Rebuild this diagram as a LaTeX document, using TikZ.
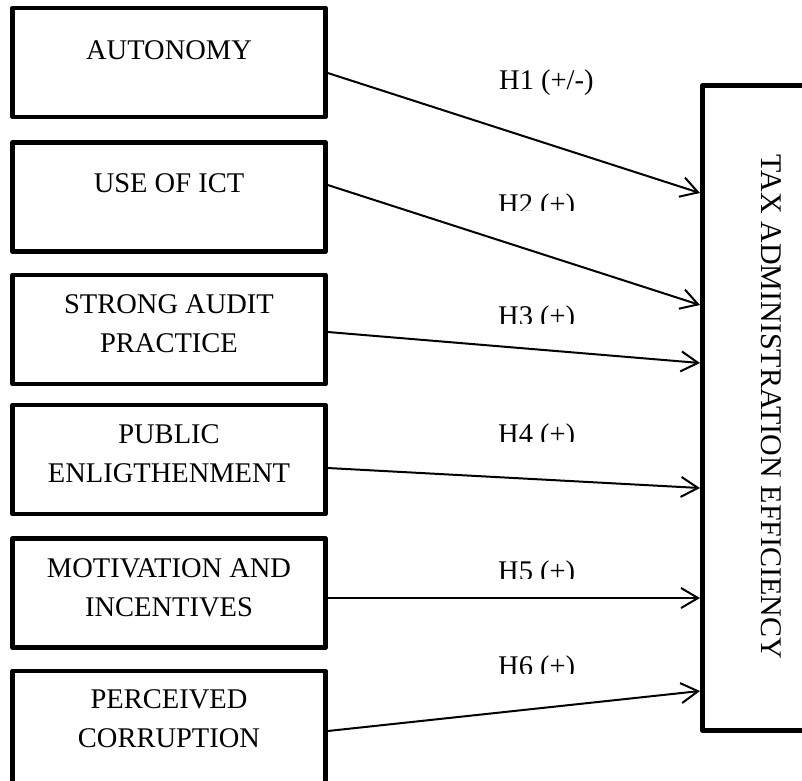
\documentclass[tikz,border=0pt]{standalone}
\usepackage{fontspec}
\setmainfont{Liberation Serif}
\usetikzlibrary{arrows.meta,calc}
\begin{document}
\begin{tikzpicture}[x=1pt,y=-1pt,
  box/.style={draw, line width=4.5pt, minimum width=313pt, minimum height=109pt, inner sep=0pt, line join=round},
  big/.style={draw, line width=5pt, minimum width=250pt, minimum height=645pt, inner sep=0pt, line join=round},
  txt/.style={font=\fontsize{28.5}{39}\selectfont, align=center, inner sep=0pt, anchor=base},
  lab/.style={font=\fontsize{28.5}{34}\selectfont, inner sep=0pt, anchor=base west},
  arr/.style={line width=2pt, -{Straight Barb[length=17pt,width=20pt]}}
]
\path[use as bounding box] (0,0) rectangle (802,780);
\clip (0,0) rectangle (802,780);
% left boxes
\node[box] (b1) at (169,62.25) {};
\node[box] (b2) at (169,197) {};
\node[box] (b3) at (169,329.5) {};
\node[box] (b4) at (169,459.5) {};
\node[box] (b5) at (169,593) {};
\node[box, minimum height=120pt] (b6) at (169,731) {};
% texts (base anchor = baseline of the last line)
\node[txt] (t1) at (169,59) {AUTONOMY};
\node[txt] (t2) at (169,192) {USE OF ICT};
\node[txt] (t3) at (169,352) {STRONG AUDIT\\PRACTICE};
\node[txt] (t4) at (169,482) {PUBLIC\\ENLIGTHENMENT};
\node[txt] (t5) at (169,616) {MOTIVATION AND\\INCENTIVES};
\node[txt] (t6) at (169,747) {PERCEIVED\\CORRUPTION};
% big box
\node[big] (T) at (827.5,408) {};
\node[txt, anchor=center, rotate=-90, font=\fontsize{30}{39}\selectfont] (tt) at (771,407) {TAX ADMINISTRATION EFFICIENCY};
% connectors
\draw[arr] (b1.east |- 0,73) -- (T.west |- 0,193);
\draw[arr] (b2.east |- 0,185) -- (T.west |- 0,305);
\draw[arr] (b3.east |- 0,332) -- (T.west |- 0,363);
\draw[arr] (b4.east |- 0,468) -- (T.west |- 0,488);
\draw[arr] (b5.east |- 0,598) -- (T.west |- 0,598);
\draw[arr] (b6.east |- 0,731) -- (T.west |- 0,691);
% labels
\node[lab] (l1) at (499,89) {H1 (+/-)};
\begin{scope}
  \clip (480,150) rectangle (620,210);
  \node[lab] (l2) at (498,213) {H2 (+)};
\end{scope}
\begin{scope}
  \clip (480,280) rectangle (620,323);
  \node[lab] (l3) at (498,325) {H3 (+)};
\end{scope}
\begin{scope}
  \clip (480,400) rectangle (620,441);
  \node[lab] (l4) at (498,443) {H4 (+)};
\end{scope}
\begin{scope}
  \clip (480,530) rectangle (620,578);
  \node[lab] (l5) at (498,580) {H5 (+)};
\end{scope}
\begin{scope}
  \clip (480,630) rectangle (620,673);
  \node[lab] (l6) at (498,675) {H6 (+)};
\end{scope}
\end{tikzpicture}
\end{document}
